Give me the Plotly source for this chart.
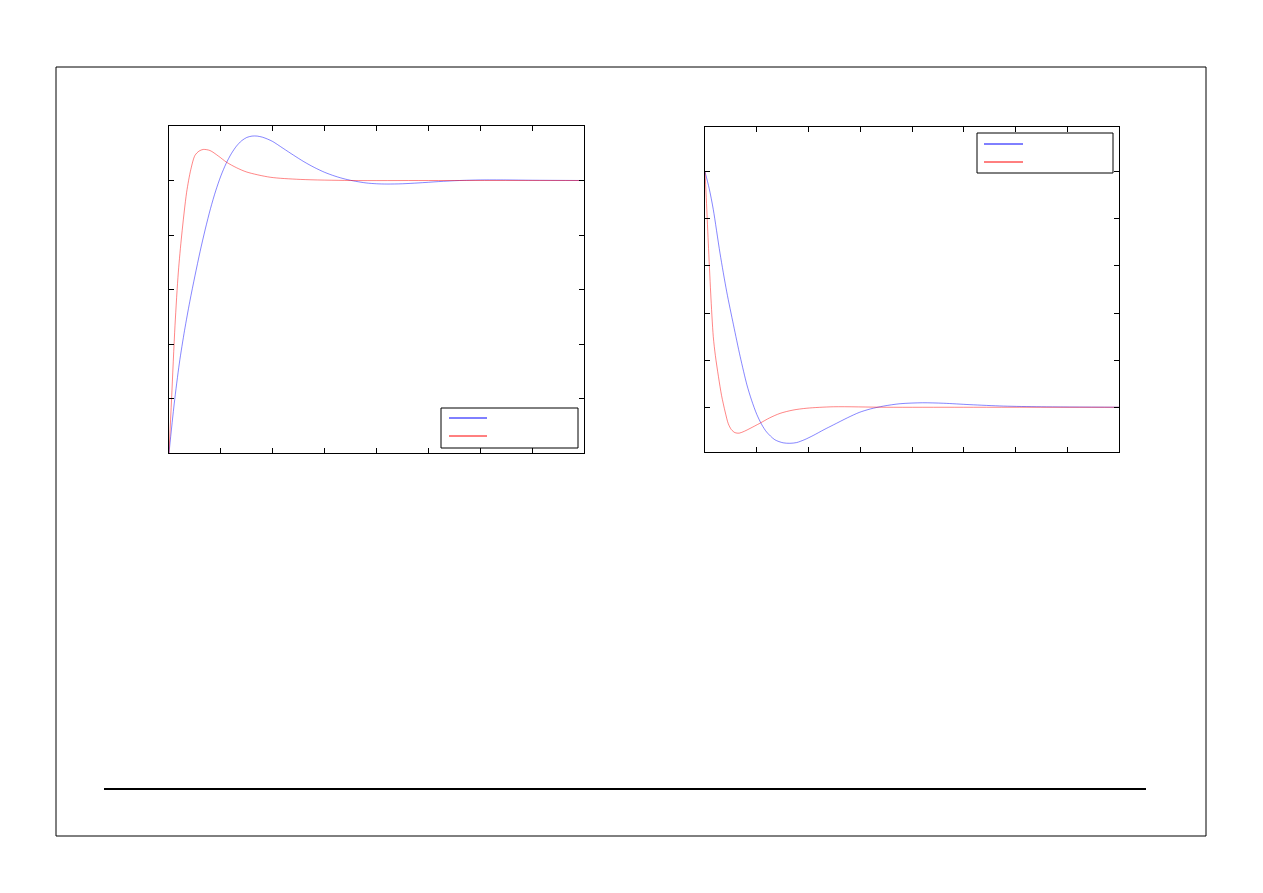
import plotly.graph_objects as go

# page size as photographed; the html body adds an 8px margin
W, H = 1263, 893
OFF = 8
FW, FH = W - 2 * OFF, H - 2 * OFF

# step responses
t_left_blue = [0, 0.1, 0.2, 0.3, 0.4, 0.5, 0.6, 0.7, 0.8, 0.9, 1.0, 1.1, 1.2, 1.3, 1.4, 1.5,
               1.6, 1.7, 1.8, 1.9, 2.0, 2.2, 2.4, 2.6, 2.8, 3.0, 3.2, 3.4, 3.6, 3.8, 4.0,
               4.2, 4.5, 4.8, 5.2, 5.6, 6.0, 6.5, 7.0, 8.0]
y_left_blue = [0, 0.18, 0.33, 0.45, 0.555, 0.65, 0.74, 0.822, 0.897, 0.962, 1.017, 1.062, 1.098, 1.126,
               1.146, 1.158, 1.163, 1.163, 1.159, 1.152, 1.143, 1.118, 1.093, 1.069, 1.048, 1.030,
               1.016, 1.005, 0.997, 0.991, 0.988, 0.987, 0.988, 0.991, 0.996, 1.0, 1.002, 1.002,
               1.001, 1.0]

t_left_red = [0, 0.05, 0.116, 0.18, 0.245, 0.34, 0.42, 0.5, 0.58, 0.66, 0.79, 0.95,
              1.11, 1.3, 1.5, 1.95, 2.53, 3.5, 5.0, 8.0]
y_left_red = [0, 0.20, 0.469, 0.664, 0.80, 0.957, 1.04, 1.092, 1.108, 1.114, 1.110, 1.09,
              1.067, 1.047, 1.031, 1.012, 1.004, 1.0, 1.0, 1.0]

# responses
t_right_blue = [0, 0.08, 0.16, 0.29, 0.42, 0.55, 0.68, 0.81, 0.9, 1.0, 1.1, 1.19, 1.35, 1.51,
                1.64, 1.77, 1.93, 2.09, 2.3, 2.48, 2.75, 2.98, 3.2, 3.45, 3.77, 4.2, 4.61,
                5.12, 5.77, 6.5, 8.0]
y_right_blue = [1.0, 0.93, 0.84, 0.654, 0.49, 0.35, 0.215, 0.095, 0.03, -0.03, -0.075, -0.105, -0.138, -0.151,
                -0.153, -0.150, -0.137, -0.12, -0.095, -0.075, -0.045, -0.022, -0.007, 0.005, 0.015, 0.019, 0.017,
                0.011, 0.005, 0.002, 0.0]

t_right_red = [0, 0.02, 0.064, 0.11, 0.16, 0.2, 0.26, 0.32, 0.39, 0.45, 0.51, 0.58, 0.66,
               0.76, 0.87, 1.06, 1.25, 1.45, 1.7, 1.97, 2.48, 3.5, 5.0, 8.0]
y_right_red = [1.0, 0.91, 0.697, 0.485, 0.30, 0.22, 0.13, 0.05, -0.02, -0.07, -0.095, -0.108, -0.11,
               -0.102, -0.09, -0.068, -0.045, -0.026, -0.012, -0.004, 0.002, 0.0, 0.0, 0.0]

BLUE = "#0000ff"
RED = "#ff0000"


def px(x):
    return (x - OFF) / FW


def py(y):
    return 1 - (y - OFF) / FH


fig = go.Figure()

for t, y, c, ax in [
    (t_left_blue, y_left_blue, "rgba(0,0,255,0.6)", ("x", "y")),
    (t_left_red, y_left_red, "rgba(255,0,0,0.6)", ("x", "y")),
    (t_right_blue, y_right_blue, "rgba(0,0,255,0.6)", ("x2", "y2")),
    (t_right_red, y_right_red, "rgba(255,0,0,0.6)", ("x2", "y2")),
]:
    fig.add_trace(go.Scatter(
        x=t, y=y, mode="lines", xaxis=ax[0], yaxis=ax[1],
        line=dict(color=c, width=0.8, shape="spline", smoothing=0.8),
        showlegend=False, hoverinfo="skip",
    ))

axis_style = dict(
    showgrid=False, zeroline=False, showticklabels=False,
    showline=True, linecolor="black", linewidth=1, mirror="ticks",
    ticks="inside", ticklen=5, tickcolor="black", tickwidth=1,
)

fig.update_layout(
    width=FW, height=FH,
    margin=dict(l=0, r=0, t=0, b=0),
    paper_bgcolor="white", plot_bgcolor="white",
    xaxis=dict(domain=[px(169), px(584)], range=[0, 8], dtick=1, anchor="y", **axis_style),
    yaxis=dict(domain=[py(453), py(126)], range=[0, 1.2], dtick=0.2, anchor="x", **axis_style),
    xaxis2=dict(domain=[px(705), px(1119)], range=[0, 8], dtick=1, anchor="y2", **axis_style),
    yaxis2=dict(domain=[py(452), py(127)], range=[-0.19, 1.19], tick0=0, dtick=0.2, anchor="x2", **axis_style),
)

# page frame and footer rule
fig.add_shape(type="rect", xref="paper", yref="paper",
              x0=px(56), x1=px(1206), y0=py(836), y1=py(67),
              line=dict(color="black", width=1))
fig.add_shape(type="line", xref="paper", yref="paper",
              x0=px(104), x1=px(1146), y0=py(789), y1=py(789),
              line=dict(color="black", width=2))

# legend boxes (no labels in the source)
for (bx0, by0, bx1, by1, lx0, lx1, ly_blue, ly_red) in [
    (441, 408, 578, 448, 449, 487, 418, 436),
    (977, 133, 1113, 173, 984, 1023, 144, 162),
]:
    fig.add_shape(type="rect", xref="paper", yref="paper",
                  x0=px(bx0), x1=px(bx1), y0=py(by1), y1=py(by0),
                  line=dict(color="black", width=1), fillcolor="white")
    fig.add_shape(type="line", xref="paper", yref="paper",
                  x0=px(lx0), x1=px(lx1), y0=py(ly_blue), y1=py(ly_blue),
                  line=dict(color=BLUE, width=1))
    fig.add_shape(type="line", xref="paper", yref="paper",
                  x0=px(lx0), x1=px(lx1), y0=py(ly_red), y1=py(ly_red),
                  line=dict(color=RED, width=1))

fig.write_html("out.html")
